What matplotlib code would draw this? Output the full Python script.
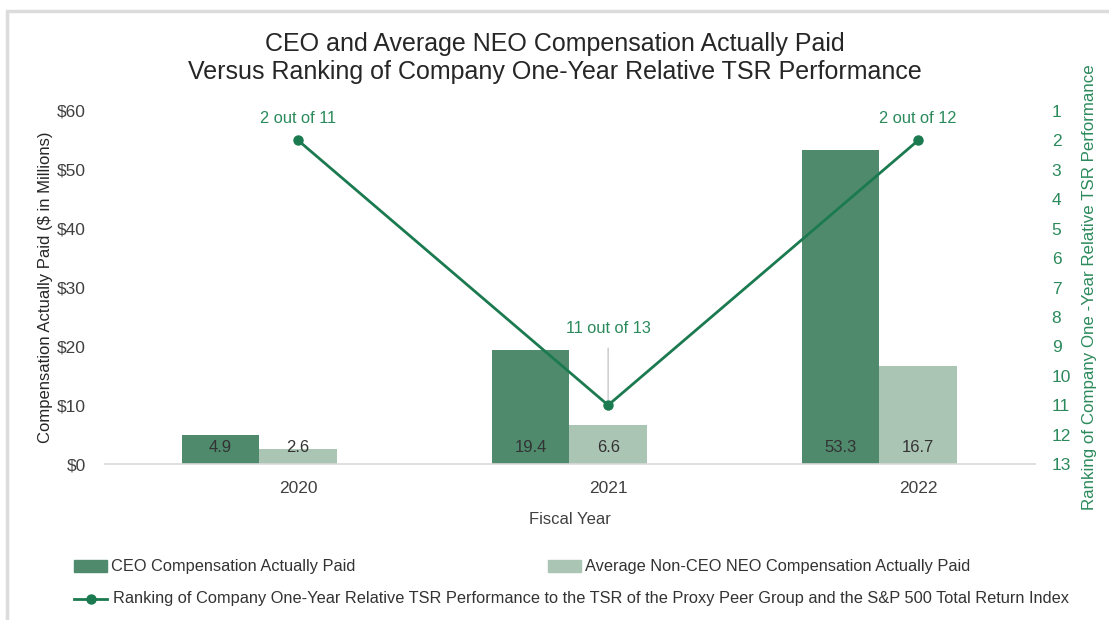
import matplotlib
matplotlib.use("Agg")
import matplotlib.pyplot as plt
from matplotlib.patches import Rectangle
from matplotlib.lines import Line2D

plt.rcParams['font.family'] = ['Liberation Sans', 'DejaVu Sans']

years = ["2020", "2021", "2022"]
ceo_cap = [4.9, 19.4, 53.3]
neo_cap = [2.6, 6.6, 16.7]
tsr_rank = [2, 11, 2]
rank_labels = ["2 out of 11", "11 out of 13", "2 out of 12"]
left_ticks = [0, 10, 20, 30, 40, 50, 60]
right_ticks = list(range(1, 14))

c_ceo = "#4f8a6d"
c_neo = "#abc5b4"
c_line = "#1b7a4f"
c_green_text = "#2b8a5c"
c_text = "#404040"

W, H = 1109, 620
fig = plt.figure(figsize=(W / 100, H / 100), dpi=100)

def fx(px):
    return px / W

def fy(py):
    return 1 - py / H

# chart frame (light border, top/left visible)
fig.patches.append(Rectangle((fx(7), fy(H + 20)), fx(W + 20), fy(11) - fy(H + 20),
                             transform=fig.transFigure, fill=False,
                             edgecolor="#dcdcdc", linewidth=2.5, zorder=0))

ax = fig.add_axes([fx(105), fy(464), fx(1035) - fx(105), fy(111) - fy(464)])
x = list(range(len(years)))
bw = 0.25
ax.bar([i - bw for i in x], ceo_cap, width=bw, color=c_ceo, zorder=2)
ax.bar(x, neo_cap, width=bw, color=c_neo, zorder=2)

for i in x:
    ax.annotate(f"{ceo_cap[i]:.1f}", (i - bw, 0), xytext=(0, 17), textcoords="offset pixels",
                ha="center", va="center", fontsize=12, color="#333333", zorder=5)
    ax.annotate(f"{neo_cap[i]:.1f}", (i, 0), xytext=(0, 17), textcoords="offset pixels",
                ha="center", va="center", fontsize=12, color="#333333", zorder=5)

ax.set_xlim(-0.623, 2.377)
ax.set_ylim(0, 60)
ax.set_yticks(left_ticks)
ax.set_yticklabels([f"${v}" for v in left_ticks])
ax.set_xticks(x)
ax.set_xticklabels(years)
ax.tick_params(axis="both", length=0, labelsize=12.5, colors=c_text)
ax.tick_params(axis="y", pad=14)
ax.tick_params(axis="x", pad=12)
for s in ["top", "right", "left"]:
    ax.spines[s].set_visible(False)
ax.spines["bottom"].set_color("#d9d9d9")
ax.spines["bottom"].set_linewidth(1.2)
ax.set_ylabel("Compensation Actually Paid ($ in Millions)", fontsize=12, color="#262626", labelpad=2.5)
ax.set_xlabel("Fiscal Year", fontsize=12, color=c_text, labelpad=12)

ax2 = ax.twinx()
ax2.plot(x, tsr_rank, color=c_line, linewidth=2, marker="o", markersize=6.5, zorder=4)
ax2.set_ylim(13, 1)
ax2.set_yticks(right_ticks)
ax2.tick_params(axis="y", length=0, labelsize=12.5, colors=c_green_text, pad=12)
for s in ["top", "right", "left", "bottom"]:
    ax2.spines[s].set_visible(False)
ax2.set_ylabel("Ranking of Company One -Year Relative TSR Performance", fontsize=12.2,
               color=c_green_text, labelpad=8)

# rank annotations
ax2.annotate(rank_labels[0], (x[0], tsr_rank[0]), xytext=(0, 22), textcoords="offset pixels",
             ha="center", va="center", fontsize=11.8, color=c_green_text)
ax2.annotate(rank_labels[2], (x[2], tsr_rank[2]), xytext=(0, 22), textcoords="offset pixels",
             ha="center", va="center", fontsize=11.8, color=c_green_text)
ax2.annotate(rank_labels[1], (x[1], tsr_rank[1]), xytext=(0, 77), textcoords="offset pixels",
             ha="center", va="center", fontsize=11.8, color=c_green_text,
             arrowprops=dict(arrowstyle="-", color="#c8c8c8", lw=1, shrinkA=7, shrinkB=4))

fig.text(0.5, fy(44), "CEO and Average NEO Compensation Actually Paid", ha="center", va="center",
         fontsize=18, color="#262626")
fig.text(0.5, fy(72), "Versus Ranking of Company One-Year Relative TSR Performance", ha="center",
         va="center", fontsize=18, color="#262626")

# legend
ly1, ly2 = 566, 599
fig.patches.append(Rectangle((fx(74), fy(ly1 + 6)), fx(33), fy(ly1 - 6) - fy(ly1 + 6),
                             transform=fig.transFigure, color=c_ceo))
fig.text(fx(111), fy(ly1), "CEO Compensation Actually Paid", ha="left", va="center",
         fontsize=11.8, color="#333333")
fig.patches.append(Rectangle((fx(548), fy(ly1 + 6)), fx(33), fy(ly1 - 6) - fy(ly1 + 6),
                             transform=fig.transFigure, color=c_neo))
fig.text(fx(585), fy(ly1), "Average Non-CEO NEO Compensation Actually Paid", ha="left",
         va="center", fontsize=11.8, color="#333333")
fig.lines.append(Line2D([fx(74), fx(107)], [fy(ly2), fy(ly2)], transform=fig.transFigure,
                        color=c_line, linewidth=2))
fig.lines.append(Line2D([fx(90.5)], [fy(ly2)], transform=fig.transFigure, color=c_line,
                        marker="o", markersize=6.5, linestyle="none"))
fig.text(fx(113), fy(ly2), "Ranking of Company One-Year Relative TSR Performance to the TSR of the Proxy Peer Group and the S&P 500 Total Return Index",
         ha="left", va="center", fontsize=11.8, color="#333333")

fig.savefig("out.png", dpi=100)
